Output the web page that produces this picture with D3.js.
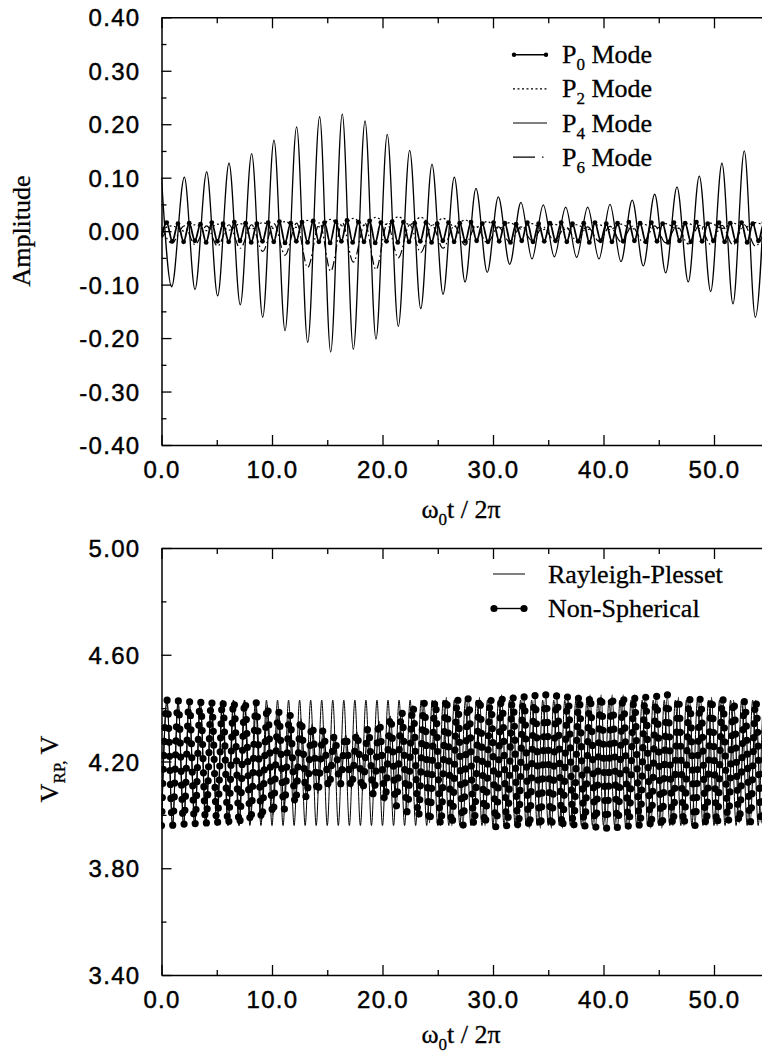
<!DOCTYPE html>
<html><head><meta charset="utf-8">
<script src="https://cdn.jsdelivr.net/npm/d3@7"></script>
<style>body{margin:0;background:#fff}svg{display:block}</style>
</head><body>
<svg id="chart" width="762" height="1055"></svg>
<script>
// ---------------- DATA ----------------
const xTicks = [0, 10, 20, 30, 40, 50];
const xMinorTicks = [5, 15, 25, 35, 45, 55];
const ampTicks = [0.40, 0.30, 0.20, 0.10, 0.00, -0.10, -0.20, -0.30, -0.40];
const ampMinorTicks = [0.35, 0.25, 0.15, 0.05, -0.05, -0.15, -0.25, -0.35];
const volTicks = [5.00, 4.60, 4.20, 3.80, 3.40];
const volMinorTicks = [4.80, 4.40, 4.00, 3.60];

const topLegendSubs = ["0", "2", "4", "6"];
const bottomLegend = ["Rayleigh-Plesset", "Non-Spherical"];

// P4 mode: extrema (time, amplitude)
const p4Time = [0, 0.92, 2.07, 3.03, 4.09, 5.08, 6.11, 7.13, 8.16, 9.16, 10.18, 11.18, 12.23, 13.23, 14.31, 15.31, 16.36, 17.36, 18.42, 19.41, 20.43, 21.43, 22.46, 23.46, 24.48, 25.48, 26.5, 27.47, 28.46, 29.48, 30.48, 31.51, 32.53, 33.53, 34.55, 35.55, 36.58, 37.57, 38.57, 39.59, 40.59, 41.58, 42.6, 43.6, 44.63, 45.63, 46.65, 47.67, 48.67, 49.7, 50.72, 51.72, 52.74, 53.74, 54.76];
const p4Value = [0.100, -0.104, 0.101, -0.109, 0.111, -0.121, 0.127, -0.138, 0.145, -0.161, 0.170, -0.186, 0.195, -0.208, 0.214, -0.226, 0.219, -0.221, 0.206, -0.202, 0.181, -0.178, 0.151, -0.145, 0.125, -0.118, 0.101, -0.095, 0.080, -0.077, 0.064, -0.062, 0.054, -0.052, 0.049, -0.048, 0.045, -0.049, 0.045, -0.052, 0.050, -0.057, 0.058, -0.065, 0.069, -0.078, 0.083, -0.095, 0.103, -0.113, 0.127, -0.136, 0.150, -0.161, 0.170];

// P2 and P6 modes: values at the same times as the P4 extrema
const p2Value = [0.002, 0.010, 0.000, 0.012, 0.001, 0.013, 0.002, 0.014, 0.004, 0.016, 0.005, 0.018, 0.007, 0.020, 0.008, 0.022, 0.010, 0.024, 0.011, 0.026, 0.012, 0.027, 0.012, 0.026, 0.011, 0.024, 0.009, 0.021, 0.007, 0.018, 0.005, 0.016, 0.004, 0.014, 0.003, 0.013, 0.003, 0.012, 0.003, 0.012, 0.003, 0.013, 0.004, 0.013, 0.004, 0.014, 0.005, 0.014, 0.005, 0.015, 0.005, 0.015, 0.006, 0.016, 0.006];
const p6Value = [0.008, -0.022, 0.010, -0.025, 0.010, -0.028, 0.012, -0.032, 0.012, -0.038, 0.014, -0.045, 0.015, -0.068, 0.016, -0.075, 0.016, -0.058, 0.015, -0.072, 0.014, -0.050, 0.012, -0.040, 0.011, -0.032, 0.010, -0.026, 0.009, -0.022, 0.008, -0.020, 0.008, -0.018, 0.008, -0.018, 0.008, -0.018, 0.008, -0.019, 0.009, -0.020, 0.009, -0.021, 0.010, -0.022, 0.010, -0.024, 0.011, -0.025, 0.011, -0.026, 0.012, -0.028, 0.012];

// P0 mode: extrema
const p0Time = [0, 0.47, 0.98, 1.49, 2.00, 2.51, 3.02, 3.53, 4.04, 4.55, 5.06, 5.57, 6.08, 6.59, 7.10, 7.61, 8.12, 8.63, 9.14, 9.65, 10.16, 10.67, 11.18, 11.69, 12.20, 12.71, 13.22, 13.73, 14.24, 14.75, 15.26, 15.77, 16.28, 16.79, 17.30, 17.81, 18.32, 18.83, 19.34, 19.85, 20.36, 20.87, 21.38, 21.89, 22.40, 22.91, 23.42, 23.93, 24.44, 24.95, 25.46, 25.97, 26.48, 26.99, 27.50, 28.01, 28.52, 29.03, 29.54, 30.05, 30.56, 31.07, 31.58, 32.09, 32.60, 33.11, 33.62, 34.13, 34.64, 35.15, 35.66, 36.17, 36.68, 37.19, 37.70, 38.21, 38.72, 39.23, 39.74, 40.25, 40.76, 41.27, 41.78, 42.29, 42.80, 43.31, 43.82, 44.33, 44.84, 45.35, 45.86, 46.37, 46.88, 47.39, 47.90, 48.41, 48.92, 49.43, 49.94, 50.45, 50.96, 51.47, 51.98, 52.49, 53.00, 53.51, 54.02, 54.53, 55.04];
const p0Value = [-0.008, 0.016, -0.019, 0.014, -0.020, 0.015, -0.018, 0.013, -0.021, 0.016, -0.019, 0.014, -0.020, 0.017, -0.018, 0.015, -0.021, 0.014, -0.019, 0.016, -0.020, 0.018, -0.022, 0.015, -0.019, 0.017, -0.021, 0.019, -0.020, 0.016, -0.022, 0.018, -0.019, 0.020, -0.021, 0.017, -0.020, 0.019, -0.022, 0.016, -0.019, 0.018, -0.021, 0.017, -0.020, 0.015, -0.019, 0.016, -0.021, 0.014, -0.018, 0.016, -0.020, 0.015, -0.019, 0.017, -0.018, 0.014, -0.020, 0.016, -0.019, 0.015, -0.021, 0.013, -0.018, 0.016, -0.020, 0.014, -0.019, 0.015, -0.018, 0.016, -0.020, 0.014, -0.019, 0.015, -0.021, 0.016, -0.018, 0.014, -0.020, 0.015, -0.019, 0.017, -0.018, 0.015, -0.020, 0.016, -0.019, 0.014, -0.021, 0.016, -0.018, 0.015, -0.020, 0.017, -0.019, 0.014, -0.018, 0.016, -0.020, 0.015, -0.019, 0.016, -0.021, 0.014, -0.018, 0.016, -0.020];

// Rayleigh-Plesset volume: extrema
const rpTime = [0, 0.5, 1, 1.5, 2, 2.5, 3, 3.5, 4, 4.5, 5, 5.5, 6, 6.5, 7, 7.5, 8, 8.5, 9, 9.5, 10, 10.5, 11, 11.5, 12, 12.5, 13, 13.5, 14, 14.5, 15, 15.5, 16, 16.5, 17, 17.5, 18, 18.5, 19, 19.5, 20, 20.5, 21, 21.5, 22, 22.5, 23, 23.5, 24, 24.5, 25, 25.5, 26, 26.5, 27, 27.5, 28, 28.5, 29, 29.5, 30, 30.5, 31, 31.5, 32, 32.5, 33, 33.5, 34, 34.5, 35, 35.5, 36, 36.5, 37, 37.5, 38, 38.5, 39, 39.5, 40, 40.5, 41, 41.5, 42, 42.5, 43, 43.5, 44, 44.5, 45, 45.5, 46, 46.5, 47, 47.5, 48, 48.5, 49, 49.5, 50, 50.5, 51, 51.5, 52, 52.5, 53, 53.5, 54, 54.5, 55];
const rpValue = [3.96, 4.43, 3.96, 4.43, 3.96, 4.43, 3.96, 4.43, 3.96, 4.43, 3.96, 4.43, 3.96, 4.43, 3.96, 4.43, 3.96, 4.43, 3.96, 4.43, 3.96, 4.43, 3.96, 4.43, 3.96, 4.43, 3.96, 4.43, 3.96, 4.43, 3.96, 4.43, 3.96, 4.43, 3.96, 4.43, 3.96, 4.43, 3.96, 4.43, 3.96, 4.43, 3.96, 4.43, 3.96, 4.43, 3.96, 4.43, 3.96, 4.43, 3.96, 4.43, 3.96, 4.43, 3.96, 4.43, 3.96, 4.43, 3.96, 4.43, 3.96, 4.43, 3.96, 4.43, 3.96, 4.43, 3.96, 4.43, 3.96, 4.43, 3.96, 4.43, 3.96, 4.43, 3.96, 4.43, 3.96, 4.43, 3.96, 4.43, 3.96, 4.43, 3.96, 4.43, 3.96, 4.43, 3.96, 4.43, 3.96, 4.43, 3.96, 4.43, 3.96, 4.43, 3.96, 4.43, 3.96, 4.43, 3.96, 4.43, 3.96, 4.43, 3.96, 4.43, 3.96, 4.43, 3.96, 4.43, 3.96, 4.43, 3.96];

// Non-spherical volume: extrema
const nsTime = [0, 0.5, 1.0, 1.5, 2.01, 2.51, 3.01, 3.52, 4.02, 4.52, 5.03, 5.53, 6.04, 6.54, 7.05, 7.55, 8.06, 8.57, 9.07, 9.58, 10.08, 10.59, 11.10, 11.60, 12.11, 12.62, 13.12, 13.63, 14.14, 14.64, 15.15, 15.66, 16.16, 16.67, 17.18, 17.68, 18.19, 18.70, 19.20, 19.71, 20.22, 20.72, 21.23, 21.74, 22.24, 22.75, 23.25, 23.76, 24.26, 24.77, 25.27, 25.77, 26.28, 26.78, 27.28, 27.78, 28.28, 28.78, 29.28, 29.78, 30.28, 30.78, 31.28, 31.78, 32.28, 32.78, 33.28, 33.78, 34.28, 34.78, 35.28, 35.78, 36.28, 36.78, 37.28, 37.78, 38.28, 38.78, 39.28, 39.78, 40.28, 40.78, 41.28, 41.78, 42.28, 42.78, 43.28, 43.78, 44.28, 44.78, 45.28, 45.78, 46.28, 46.78, 47.28, 47.78, 48.28, 48.78, 49.28, 49.78, 50.28, 50.78, 51.28, 51.78, 52.28, 52.78, 53.28, 53.78, 54.28, 54.78, 55.28];
const nsValue = [3.96, 4.43, 3.96, 4.43, 3.96, 4.43, 3.96, 4.43, 3.96, 4.43, 3.96, 4.43, 3.96, 4.43, 3.96, 4.43, 3.97, 4.42, 3.98, 4.41, 4.00, 4.39, 4.02, 4.38, 4.04, 4.36, 4.06, 4.34, 4.08, 4.32, 4.10, 4.30, 4.11, 4.30, 4.10, 4.31, 4.09, 4.33, 4.07, 4.35, 4.05, 4.37, 4.03, 4.39, 4.01, 4.41, 3.99, 4.42, 3.97, 4.43, 3.96, 4.44, 3.96, 4.44, 3.96, 4.44, 3.96, 4.44, 3.96, 4.44, 3.95, 4.45, 3.95, 4.45, 3.95, 4.45, 3.95, 4.45, 3.95, 4.45, 3.95, 4.45, 3.95, 4.45, 3.95, 4.45, 3.95, 4.45, 3.95, 4.45, 3.95, 4.45, 3.95, 4.45, 3.95, 4.45, 3.95, 4.45, 3.95, 4.45, 3.95, 4.45, 3.96, 4.44, 3.96, 4.44, 3.96, 4.44, 3.96, 4.44, 3.96, 4.44, 3.97, 4.43, 3.97, 4.43, 3.97, 4.43, 3.97, 4.43, 3.97];

// ---------------- DRAWING ----------------
const svg = d3.select("#chart");
svg.append("rect").attr("width", 762).attr("height", 1055).attr("fill", "#fff");
const loc = d3.formatLocale({decimal: ".", thousands: ",", grouping: [3], currency: ["", ""], minus: "-"});
const f2 = loc.format(".2f"), f1 = loc.format(".1f");
const SANS = "'Liberation Sans', Arial, Helvetica, sans-serif";
const SERIF = "'Liberation Serif', 'Times New Roman', serif";

const x = d3.scaleLinear().domain([0, 55]).range([161.5, 769.25]);
const pair = (ts, vs) => ts.map((t, i) => [t, vs[i]]).filter(d => d[1] !== undefined);

function drawFrame(y, yTicks, yMinor, top, bottom, clipId) {
  const g = svg.append("g");
  svg.append("clipPath").attr("id", clipId).append("rect")
    .attr("x", x(0)).attr("y", top).attr("width", x(55) - x(0)).attr("height", bottom - top);
  const gl = g.append("g").attr("transform", `translate(${x(0)},0)`)
    .call(d3.axisLeft(y).tickValues(yTicks).tickFormat(f2).tickSize(-10).tickSizeOuter(0).tickPadding(21));
  g.append("g").attr("transform", `translate(${x(0)},0)`)
    .call(d3.axisLeft(y).tickValues(yMinor).tickFormat("").tickSize(-5).tickSizeOuter(0))
    .select(".domain").remove();
  const gb = g.append("g").attr("transform", `translate(0,${bottom})`)
    .call(d3.axisBottom(x).tickValues(xTicks).tickFormat(f1).tickSize(-10).tickSizeOuter(0));
  gb.selectAll("text").attr("y", 33).attr("dy", 0);
  g.append("g").attr("transform", `translate(0,${bottom})`)
    .call(d3.axisBottom(x).tickValues(xMinorTicks).tickFormat("").tickSize(-5).tickSizeOuter(0))
    .select(".domain").remove();
  g.append("g").attr("transform", `translate(0,${top})`)
    .call(d3.axisTop(x).tickValues(xTicks).tickFormat("").tickSize(-11).tickSizeOuter(0));
  g.append("g").attr("transform", `translate(0,${top})`)
    .call(d3.axisTop(x).tickValues(xMinorTicks).tickFormat("").tickSize(-6).tickSizeOuter(0))
    .select(".domain").remove();
  g.selectAll(".domain").attr("stroke", "#000").attr("stroke-width", 1.5);
  g.selectAll(".tick line").attr("stroke", "#000").attr("stroke-width", 1.3);
  g.selectAll(".tick text").attr("fill", "#000").attr("stroke", "#000").attr("stroke-width", 0.45)
    .style("font-family", SANS).style("font-size", "24px").style("letter-spacing", "1.3px");
  gl.selectAll(".tick text").attr("dy", "0.36em");
  return g;
}

function xTitle(yBase) {
  const t = svg.append("text").attr("x", 461).attr("y", yBase).attr("text-anchor", "middle")
    .style("font-family", SERIF).style("font-size", "26px").attr("fill", "#000")
    .attr("stroke", "#000").attr("stroke-width", 0.3);
  t.append("tspan").text("ω");
  t.append("tspan").attr("dy", 7).style("font-size", "17px").text("0");
  t.append("tspan").attr("dy", -7).text("t / 2π");
}

// ---------- Top panel ----------
const yA = d3.scaleLinear().domain([-0.4, 0.4]).range([445, 17.3]);
drawFrame(yA, ampTicks, ampMinorTicks, 17.3, 445, "clipA");
const lineA = d3.line().x(d => x(d[0])).y(d => yA(d[1])).curve(d3.curveMonotoneX);
const gA = svg.append("g").attr("clip-path", "url(#clipA)").attr("fill", "none").attr("stroke", "#000");

gA.append("path").datum(pair(p4Time, p2Value)).attr("d", lineA)
  .attr("stroke-width", 1.2).attr("stroke-dasharray", "2,2.5");
gA.append("path").datum(pair(p4Time, p6Value)).attr("d", lineA)
  .attr("stroke-width", 1.2).attr("stroke-dasharray", "9,3,1.5,3");
gA.append("path").datum(pair(p0Time, p0Value)).attr("d", lineA).attr("stroke-width", 1.8);
gA.selectAll("circle.p0").data(pair(p0Time, p0Value)).join("circle").attr("class", "p0")
  .attr("cx", d => x(d[0])).attr("cy", d => yA(d[1])).attr("r", 2.4).attr("fill", "#000").attr("stroke", "none");
gA.append("path").datum(pair(p4Time, p4Value)).attr("d", lineA).attr("stroke-width", 1.3);

xTitle(518);
svg.append("text").attr("transform", "translate(30,231) rotate(-90)").attr("text-anchor", "middle")
  .style("font-family", SERIF).style("font-size", "26px").attr("fill", "#000")
  .attr("stroke", "#000").attr("stroke-width", 0.3).text("Amplitude");

// top legend
const legA = svg.append("g");
const dashes = [null, "2,2.5", null, "22,7,1.5,7"];
topLegendSubs.forEach((s, i) => {
  const yb = 63.3 + i * 34.1;
  const ly = yb - 8.5;
  const ln = legA.append("line").attr("x1", 513).attr("x2", 547).attr("y1", ly).attr("y2", ly)
    .attr("stroke", "#000").attr("stroke-width", i === 0 ? 1.6 : 1.2);
  if (dashes[i]) ln.attr("stroke-dasharray", dashes[i]);
  if (i === 0) {
    [514, 546].forEach(cx => legA.append("circle").attr("cx", cx).attr("cy", ly).attr("r", 2.2).attr("fill", "#000"));
  }
  const t = legA.append("text").attr("x", 562).attr("y", yb)
    .style("font-family", SERIF).style("font-size", "26px").attr("fill", "#000")
    .attr("stroke", "#000").attr("stroke-width", 0.3);
  t.append("tspan").text("P");
  t.append("tspan").attr("dy", 7).style("font-size", "17px").text(s);
  t.append("tspan").attr("dy", -7).text(" Mode");
});

// ---------- Bottom panel ----------
const yV = d3.scaleLinear().domain([3.4, 5.0]).range([975, 548]);
drawFrame(yV, volTicks, volMinorTicks, 548, 975, "clipV");
const lineV = d3.line().x(d => x(d[0])).y(d => yV(d[1])).curve(d3.curveMonotoneX);
const gV = svg.append("g").attr("clip-path", "url(#clipV)").attr("fill", "none").attr("stroke", "#000");
gV.append("path").datum(pair(rpTime, rpValue)).attr("d", lineV).attr("stroke-width", 1.0);
gV.append("path").datum(pair(nsTime, nsValue)).attr("d", lineV).attr("stroke-width", 1.2);
gV.append("path").datum(pair(nsTime, nsValue)).attr("d", lineV)
  .attr("stroke-width", 7.2).attr("stroke-linecap", "round").attr("stroke-dasharray", "0,14");

xTitle(1043);
const vl = svg.append("text").attr("transform", "translate(58,769) rotate(-90)").attr("text-anchor", "middle")
  .style("font-family", SERIF).style("font-size", "26px").attr("fill", "#000")
  .attr("stroke", "#000").attr("stroke-width", 0.3);
vl.append("tspan").text("V");
vl.append("tspan").attr("dy", 7).style("font-size", "17px").text("RP,");
vl.append("tspan").attr("dy", -7).text(" V");

// bottom legend
const legV = svg.append("g");
bottomLegend.forEach((name, i) => {
  const yb = 582.5 + i * 34.5;
  const ly = yb - 8.5;
  legV.append("line").attr("x1", 493).attr("x2", 525).attr("y1", ly).attr("y2", ly)
    .attr("stroke", "#000").attr("stroke-width", i === 0 ? 1.0 : 1.4);
  if (i === 1) {
    [494, 524].forEach(cx => legV.append("circle").attr("cx", cx).attr("cy", ly).attr("r", 3.6).attr("fill", "#000"));
  }
  legV.append("text").attr("x", 548).attr("y", yb)
    .style("font-family", SERIF).style("font-size", "26px").attr("fill", "#000")
    .attr("stroke", "#000").attr("stroke-width", 0.3).text(name);
});
</script>
</body></html>
